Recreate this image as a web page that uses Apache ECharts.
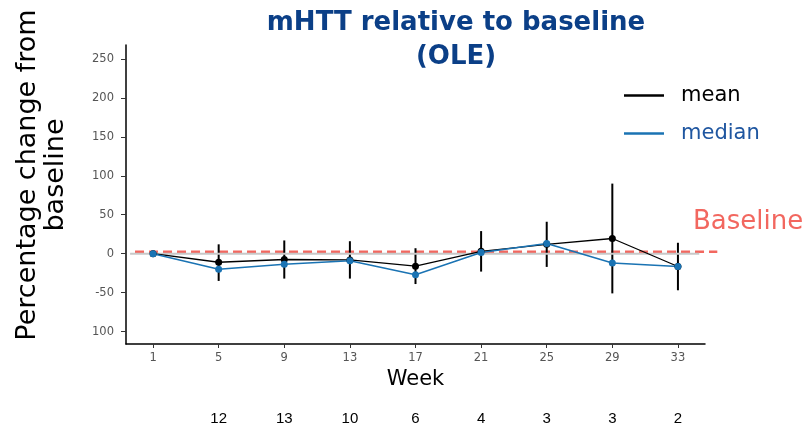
<!DOCTYPE html>
<html>
<head>
<meta charset="utf-8">
<script src="https://cdn.jsdelivr.net/npm/echarts@6/dist/echarts.min.js"></script>
<style>html,body{margin:0;padding:0;background:#fff;}#c{width:806px;height:427px;}</style>
</head>
<body>
<div id="c"></div>
<script>
const weeks = [1, 5, 9, 13, 17, 21, 25, 29, 33];
const meanVals = [0, -11, -7.5, -8, -16, 3, 12, 19.5, -16.5];
const medianVals = [0, -20, -13.5, -9, -27, 1.5, 13, -12, -16.5];
const errLow = [null, -35, -32, -32, -39, -23, -17, -51, -47];
const errHigh = [null, 12, 17, 16, 7, 29, 41, 90, 14];
const nWeeks = [5, 9, 13, 17, 21, 25, 29, 33];
const nCounts = [12, 13, 10, 6, 4, 3, 3, 2];
const yTicks = [-100, -50, 0, 50, 100, 150, 200, 250];
const yTickLabels = ['100', '-50', '0', '50', '100', '150', '200', '250'];
const baselineValue = 2.5;
const baselineSpan = [-0.1, 35.4];
const zeroSpan = [-0.4, 34.3];

const meanData = weeks.map((w, i) => [w, meanVals[i]]);
const medianData = weeks.map((w, i) => [w, medianVals[i]]);
const errData = weeks.map((w, i) => [w, errLow[i], errHigh[i]]).filter(d => d[1] !== null);

const chart = echarts.init(document.getElementById('c'));
const tickFont = { color: '#555', fontSize: 11.5, fontFamily: 'DejaVu Sans' };

chart.setOption({
  animation: false,
  backgroundColor: '#fff',
  title: {
    text: 'mHTT relative to baseline\n(OLE)',
    left: 451, top: 1, textAlign: 'center',
    textStyle: { color: '#0B3F87', fontSize: 26, fontWeight: 'bold', fontFamily: 'DejaVu Sans', lineHeight: 34 }
  },
  legend: {
    orient: 'vertical', left: 619, top: 80, itemGap: 17,
    itemWidth: 40, itemHeight: 2.5, icon: 'rect',
    data: [
      { name: 'mean', textStyle: { color: '#000' } },
      { name: 'median', textStyle: { color: '#1F56A0' } }
    ],
    textStyle: { fontSize: 21, fontFamily: 'DejaVu Sans', padding: [0, 0, 0, 12] }
  },
  graphic: [
    { type: 'text', x: 42, y: 175, rotation: Math.PI / 2,
      style: { text: 'Percentage change from\nbaseline', fill: '#000', font: '27px "DejaVu Sans"', textAlign: 'center', textVerticalAlign: 'middle', lineHeight: 28 } },
    { type: 'text', x: 693, y: 222,
      style: { text: 'Baseline', fill: '#F2675F', font: '26px "DejaVu Sans"', textAlign: 'left', textVerticalAlign: 'middle' } }
  ],
  grid: { left: 126, right: 101, top: 45, bottom: 83 },
  xAxis: [
    {
      type: 'value', min: -0.65, max: 34.65,
      name: 'Week', nameLocation: 'middle', nameGap: 21,
      nameTextStyle: { color: '#000', fontSize: 21, fontFamily: 'DejaVu Sans' },
      axisLine: { onZero: false, lineStyle: { color: '#000', width: 1.5 } },
      axisTick: { customValues: weeks, length: 4, lineStyle: { color: '#333' } },
      axisLabel: Object.assign({ customValues: weeks, margin: 8 }, tickFont),
      splitLine: { show: false }
    },
    {
      type: 'value', min: -0.65, max: 34.65, position: 'bottom', offset: 59,
      axisLine: { show: false, onZero: false }, axisTick: { show: false }, splitLine: { show: false },
      axisLabel: {
        customValues: nWeeks, margin: 8, color: '#000', fontSize: 15, fontFamily: 'Liberation Sans',
        formatter: v => { const i = nWeeks.indexOf(v); return i >= 0 ? String(nCounts[i]) : ''; }
      }
    }
  ],
  yAxis: {
    type: 'value', min: -116, max: 268,
    axisLine: { show: true, onZero: false, lineStyle: { color: '#000', width: 1.5 } },
    axisTick: { show: true, customValues: yTicks, length: 5, lineStyle: { color: '#333' } },
    axisLabel: Object.assign({
      customValues: yTicks, margin: 12,
      formatter: v => { const i = yTicks.indexOf(v); return i >= 0 ? yTickLabels[i] : ''; }
    }, tickFont),
    splitLine: { show: false }
  },
  series: [
    { name: 'zero', type: 'line', data: [[zeroSpan[0], 0], [zeroSpan[1], 0]], symbol: 'none', silent: true,
      lineStyle: { color: '#c8c8c8', width: 2 } },
    { name: 'err', type: 'custom', data: errData, encode: { x: 0, y: [1, 2] },
      renderItem: (params, api) => {
        const p1 = api.coord([api.value(0), api.value(1)]);
        const p2 = api.coord([api.value(0), api.value(2)]);
        return { type: 'line', shape: { x1: p1[0], y1: p1[1], x2: p2[0], y2: p2[1] }, style: { stroke: '#000', lineWidth: 2 } };
      } },
    { name: 'mean', type: 'line', data: meanData, color: '#000', symbol: 'circle', symbolSize: 7,
      lineStyle: { color: '#000', width: 1.3 }, itemStyle: { color: '#000' } },
    { name: 'median', type: 'line', data: medianData, color: '#1a73b3', symbol: 'circle', symbolSize: 7,
      lineStyle: { color: '#1a73b3', width: 1.5 }, itemStyle: { color: '#1a73b3' } }
  ]
});

// Baseline dashed line extends past the plotting area; place it through the chart's own scales.
const b1 = chart.convertToPixel({ gridIndex: 0 }, [baselineSpan[0], baselineValue]);
const b2 = chart.convertToPixel({ gridIndex: 0 }, [baselineSpan[1], baselineValue]);
chart.setOption({
  graphic: [
    { type: 'text', x: 42, y: 175, rotation: Math.PI / 2,
      style: { text: 'Percentage change from\nbaseline', fill: '#000', font: '27px "DejaVu Sans"', textAlign: 'center', textVerticalAlign: 'middle', lineHeight: 28 } },
    { type: 'text', x: 693, y: 222,
      style: { text: 'Baseline', fill: '#F2675F', font: '26px "DejaVu Sans"', textAlign: 'left', textVerticalAlign: 'middle' } },
    { type: 'line', z: 2, silent: true,
      shape: { x1: b1[0], y1: b1[1], x2: b2[0], y2: b2[1] },
      style: { stroke: '#F2675F', lineWidth: 2.5, lineDash: [9, 5] } }
  ]
});
</script>
</body>
</html>
